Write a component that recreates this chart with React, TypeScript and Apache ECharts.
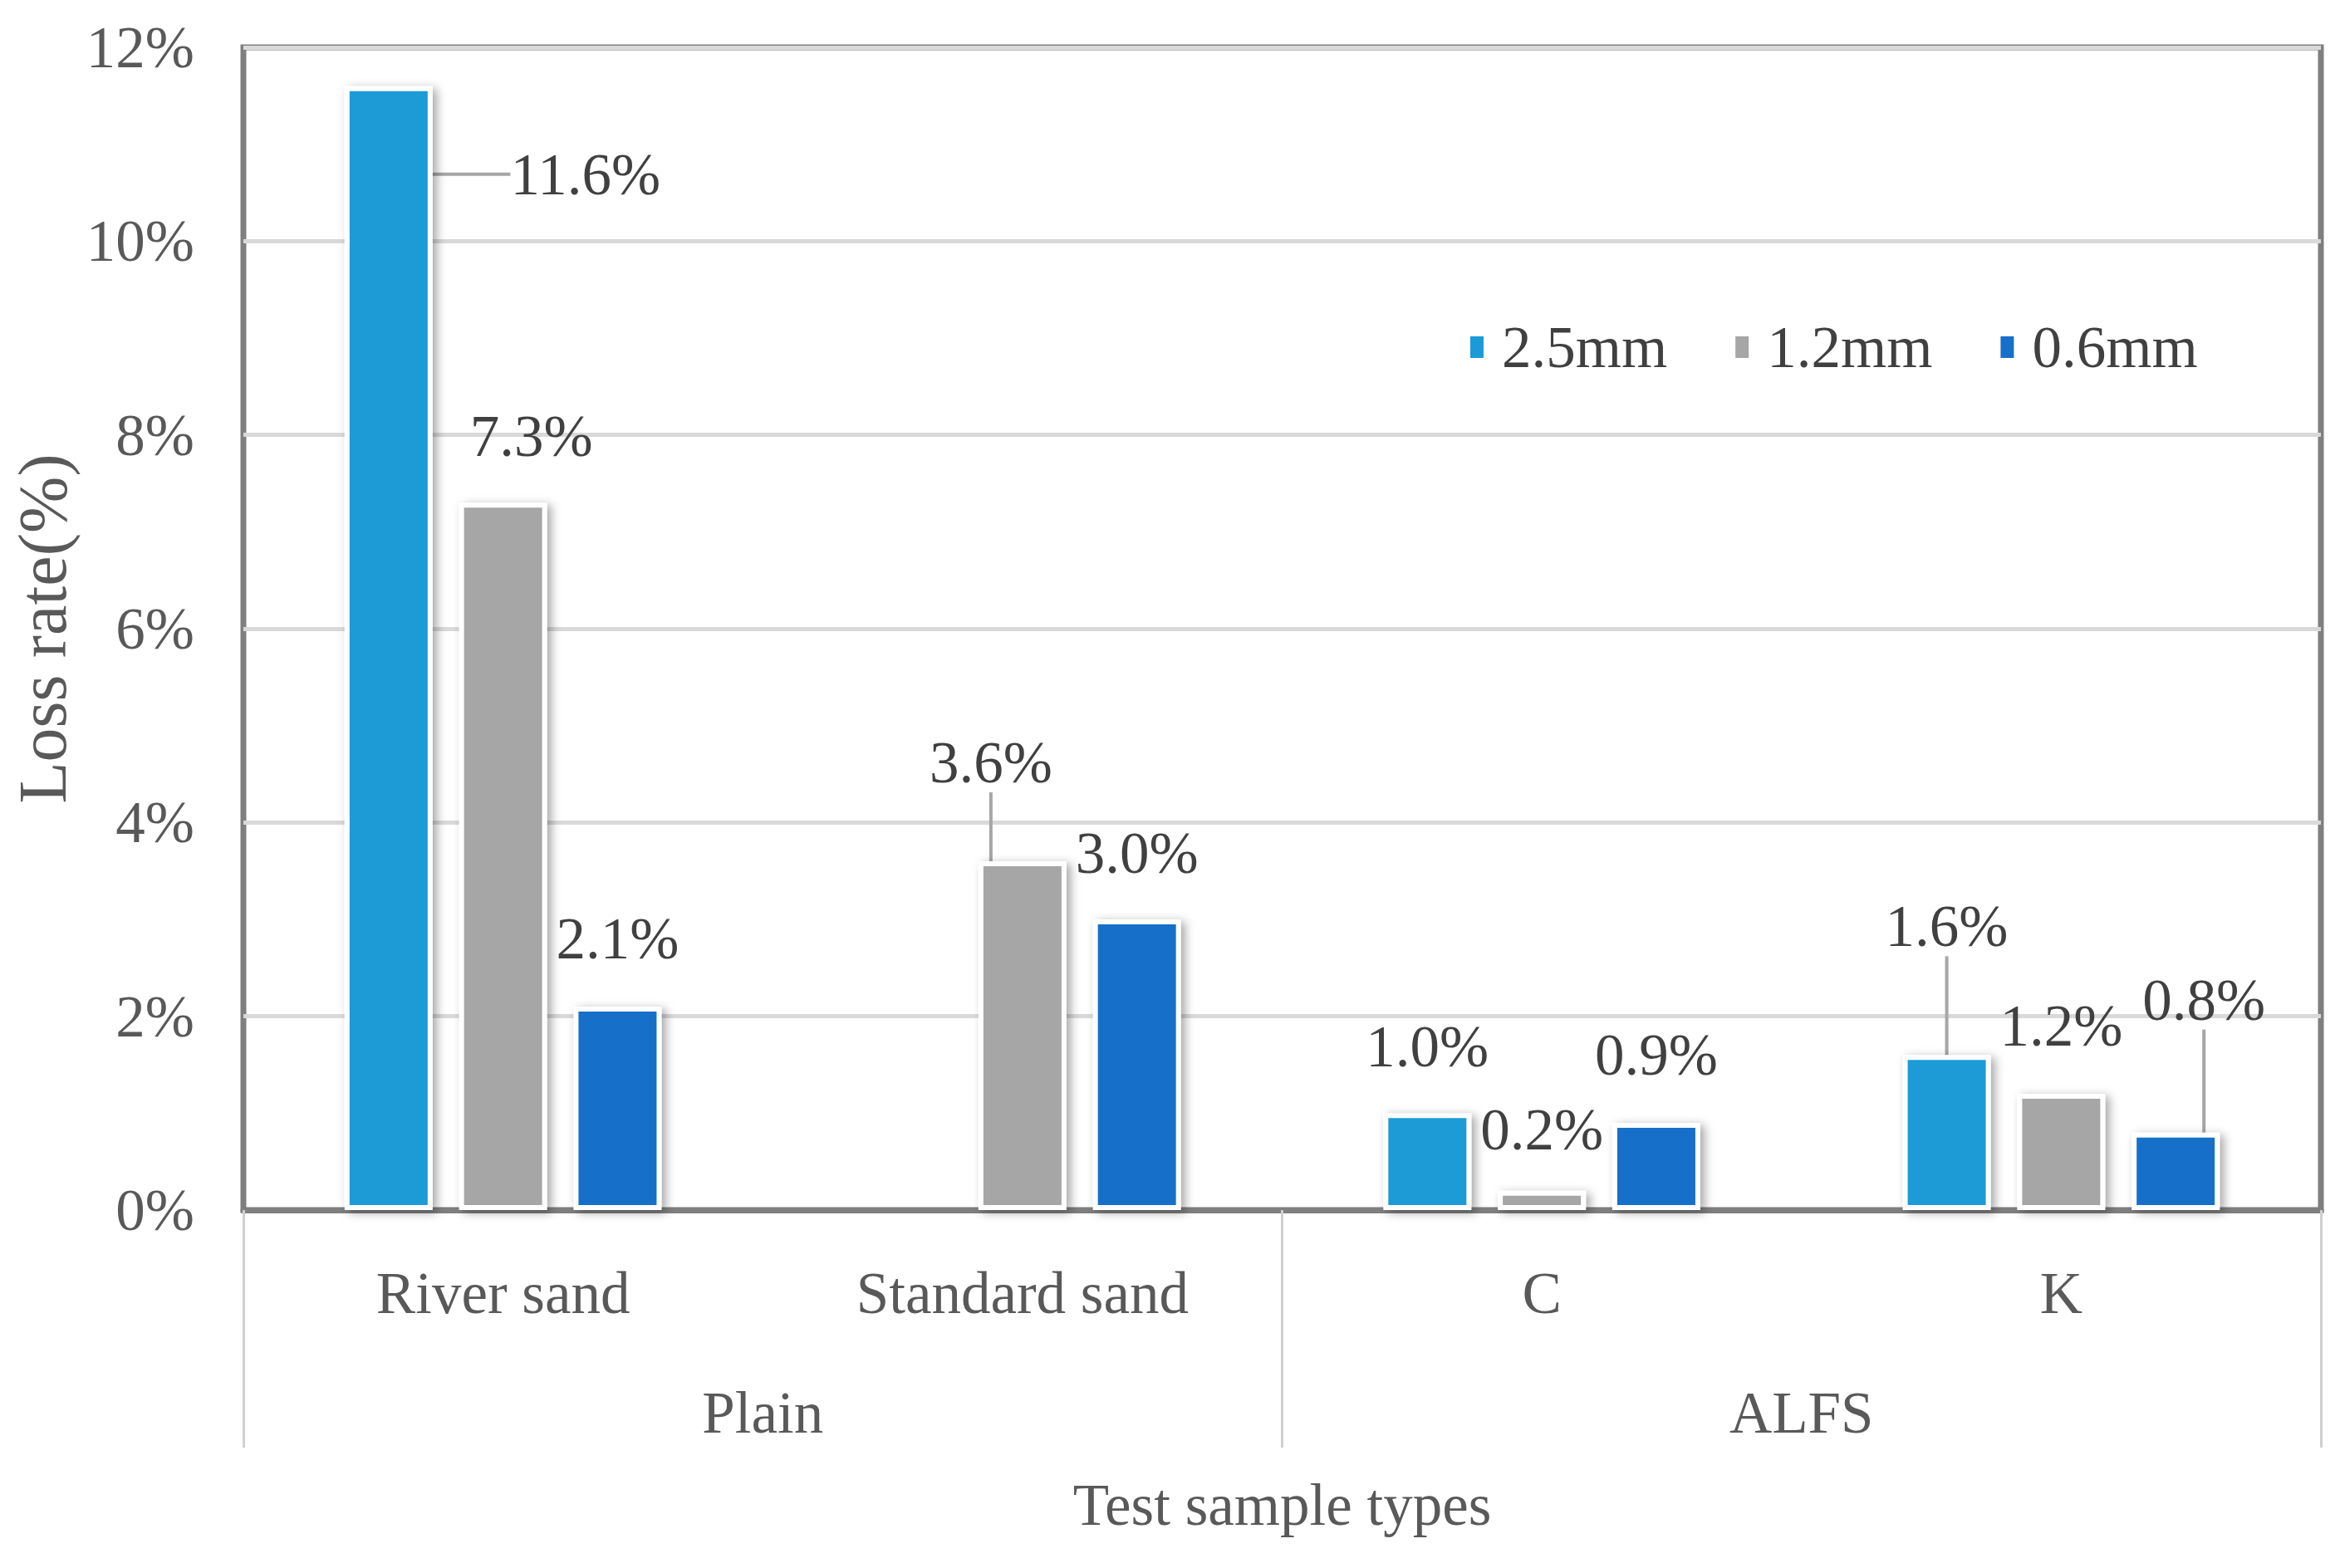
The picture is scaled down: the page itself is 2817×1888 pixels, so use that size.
import React, { useEffect, useRef } from "react";
import * as echarts from "echarts";

const categories = ["River sand", "Standard sand", "C", "K"];
const groups = ["Plain", "ALFS"];
const seriesNames = ["2.5mm", "1.2mm", "0.6mm"];
const values25: (number | null)[] = [11.6, null, 1.0, 1.6];
const values12: (number | null)[] = [7.3, 3.6, 0.2, 1.2];
const values06: (number | null)[] = [2.1, 3.0, 0.9, 0.8];
const yMin = 0;
const yMax = 12;
const yStep = 2;
const xTitle = "Test sample types";
const yTitle = "Loss rate(%)";

const colors = ["#1a9bd7", "#a6a6a6", "#1670c9"];
const FONT = "'Liberation Serif', 'Times New Roman', serif";

// label displacement (px) and leader-line flags, per series / category
const labelOffsets: [number, number][][] = [
  [[237, 186], [0, 0], [0, 0], [0, -75]],
  [[34, 0], [-38, -39], [0, 6], [0, -2]],
  [[0, -2], [0, 0], [0, -2], [34, -80]],
];
const leaderLines: boolean[][] = [
  [true, false, false, true],
  [false, true, false, false],
  [false, false, false, true],
];

export default function App() {
  const ref = useRef<HTMLDivElement>(null);
  useEffect(() => {
    document.body.style.margin = "0";
    if (!ref.current) return;
    const chart = echarts.init(ref.current, undefined, { renderer: "svg" });
    const allValues = [values25, values12, values06];
    const series = allValues.map((vals, si) => ({
      name: seriesNames[si],
      type: "bar",
      xAxisIndex: 0,
      barWidth: 106,
      barGap: "30%",
      itemStyle: {
        color: colors[si],
        borderColor: "#ffffff",
        borderWidth: 6,
        shadowBlur: 12,
        shadowColor: "rgba(0,0,0,0.35)",
        shadowOffsetX: 5,
        shadowOffsetY: 3,
      },
      label: {
        show: true,
        position: "top",
        distance: 44,
        fontSize: 71,
        lineHeight: 72,
        fontFamily: FONT,
        color: "#404040",
        formatter: (p: any) => Number(p.value).toFixed(1) + "%",
      },
      labelLine: { show: false, lineStyle: { color: "#a6a6a6", width: 4 } },
      labelLayout: (p: any) => {
        const o = labelOffsets[si][p.dataIndex] || [0, 0];
        return { dx: o[0], dy: o[1] };
      },
      data: vals.map((v, i) =>
        v == null
          ? "-"
          : {
              value: v,
              labelLine: {
                show: leaderLines[si][i],
                lineStyle: { color: "#a6a6a6", width: 4 },
              },
            }
      ),
    }));

    chart.setOption({
      animation: false,
      backgroundColor: "#ffffff",
      textStyle: { fontFamily: FONT },
      grid: {
        left: 293,
        right: 23,
        top: 57,
        bottom: 431,
        show: true,
        borderColor: "#7f7f7f",
        borderWidth: 7,
        backgroundColor: "transparent",
      },
      legend: {
        data: seriesNames,
        left: 1763,
        top: 377,
        itemWidth: 18,
        itemHeight: 28,
        itemGap: 80,
        icon: "rect",
        textStyle: {
          fontSize: 71,
          lineHeight: 72,
          fontFamily: FONT,
          color: "#404040",
          padding: [0, 0, 0, 16],
        },
      },
      xAxis: [
        {
          type: "category",
          data: categories,
          position: "bottom",
          axisLine: { show: true, lineStyle: { color: "#7f7f7f", width: 7 } },
          axisTick: { show: false },
          axisLabel: {
            fontSize: 71,
            lineHeight: 72,
            fontFamily: FONT,
            color: "#595959",
            margin: 64,
            interval: 0,
          },
        },
        {
          type: "category",
          data: groups,
          position: "bottom",
          axisLine: { show: false },
          axisTick: {
            show: true,
            length: 286,
            lineStyle: { color: "#d0d0d0", width: 3 },
          },
          axisLabel: {
            fontSize: 71,
            lineHeight: 72,
            fontFamily: FONT,
            color: "#595959",
            margin: 208,
            interval: 0,
          },
          name: xTitle,
          nameLocation: "middle",
          nameGap: 319,
          nameTextStyle: {
            fontSize: 71,
            lineHeight: 72,
            fontFamily: FONT,
            color: "#595959",
          },
        },
      ],
      yAxis: {
        type: "value",
        min: yMin,
        max: yMax,
        interval: yStep,
        axisLine: { show: false },
        axisTick: { show: false },
        axisLabel: {
          formatter: "{value}%",
          fontSize: 71,
          fontFamily: FONT,
          color: "#595959",
          margin: 59,
        },
        splitLine: { lineStyle: { color: "#d9d9d9", width: 5 } },
        name: yTitle,
        nameLocation: "middle",
        nameGap: 198,
        nameTextStyle: {
          fontSize: 82,
          fontFamily: FONT,
          color: "#595959",
        },
      },
      series,
    });
    return () => chart.dispose();
  }, []);
  return <div ref={ref} style={{ width: 2817, height: 1888 }} />;
}
